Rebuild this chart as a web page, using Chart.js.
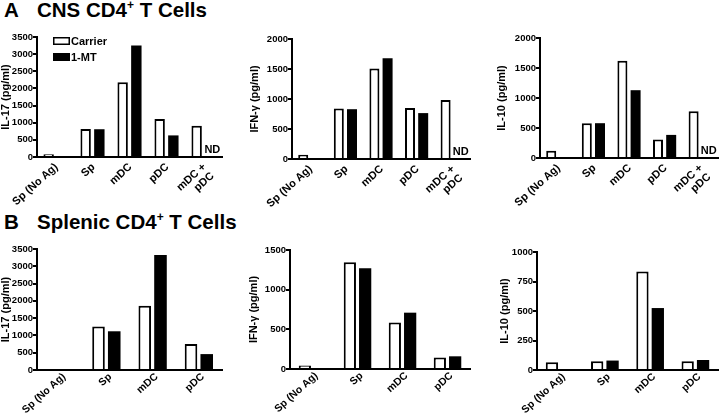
<!DOCTYPE html>
<html lang="en">
<head>
<meta charset="UTF-8" />
<title>CD4+ T cell cytokines</title>
<script src="https://cdn.jsdelivr.net/npm/chart.js"></script>
<style>
    body {
        margin: 0;
        background: #fff;
        width: 721px;
        height: 413px;
        position: relative;
        overflow: hidden;
        font-family: 'Liberation Sans', Arial, sans-serif;
    }

    .heading {
        position: absolute;
        font-weight: bold;
        font-size: 20.5px;
        color: #000;
        white-space: nowrap;
        line-height: 1;
    }

    .heading sup {
        font-size: 12px;
        vertical-align: 8px;
        line-height: 0;
    }

    canvas {
        position: absolute;
    }
</style>
</head>
<body>
<div class="heading" style="left:4px; top:0px;">A</div>
<div class="heading" style="left:37px; top:0px;">CNS CD4<sup>+</sup> T Cells</div>
<div class="heading" style="left:4px; top:212px;">B</div>
<div class="heading" style="left:37px; top:212px;">Splenic CD4<sup>+</sup> T Cells</div>

<canvas id="a1"></canvas>
<canvas id="a2"></canvas>
<canvas id="a3"></canvas>
<canvas id="b1"></canvas>
<canvas id="b2"></canvas>
<canvas id="b3"></canvas>

<script>
    // categories
    const catsA = ['Sp (No Ag)', 'Sp', 'mDC', 'pDC', ['mDC +', 'pDC']];
    const catsB = ['Sp (No Ag)', 'Sp', 'mDC', 'pDC'];
    const seriesNames = ['Carrier', '1-MT'];

    // CNS CD4+ T cells (null = ND)
    const cnsIL17Carrier = [80, 820, 2180, 1110, 910];
    const cnsIL17MT = [0, 810, 3250, 630, null];
    const cnsIFNgCarrier = [70, 840, 1510, 850, 985];
    const cnsIFNgMT = [0, 830, 1680, 765, null];
    const cnsIL10Carrier = [120, 580, 1620, 310, 780];
    const cnsIL10MT = [0, 580, 1130, 385, null];

    // Splenic CD4+ T cells
    const splIL17Carrier = [0, 1260, 1860, 750];
    const splIL17MT = [0, 1120, 3330, 460];
    const splIFNgCarrier = [45, 1345, 585, 145];
    const splIFNgMT = [0, 1270, 710, 160];
    const splIL10Carrier = [65, 75, 835, 75];
    const splIL10MT = [0, 80, 525, 85];

    // y axis ticks
    const ticksIL17 = [0, 500, 1000, 1500, 2000, 2500, 3000, 3500];
    const ticks2000 = [0, 500, 1000, 1500, 2000];
    const ticks1500 = [0, 500, 1000, 1500];
    const ticks1000 = [0, 250, 500, 750, 1000];

    const FONT = "'Liberation Sans', Arial, sans-serif";

    // writes "ND" where a 1-MT value was not determined
    const ndPlugin = {
        id: 'nd',
        afterDatasetsDraw(chart) {
            const ds = chart.data.datasets[1];
            const meta = chart.getDatasetMeta(1);
            const ctx = chart.ctx;
            const xScale = chart.scales.x;
            ds.data.forEach((v, i) => {
                if (v !== null) return;
                let x = meta.data[i] && meta.data[i].x;
                if (!isFinite(x)) x = xScale.getPixelForValue(i) + 7;
                ctx.save();
                ctx.font = 'bold 11px ' + FONT;
                ctx.fillStyle = '#000';
                ctx.textAlign = 'center';
                ctx.textBaseline = 'bottom';
                ctx.fillText('ND', x + 2, chart.chartArea.bottom - 2);
                ctx.restore();
            });
        }
    };

    // small legend in the top-left corner of the plot area
    const boxLegend = {
        id: 'boxLegend',
        afterDraw(chart, args, opts) {
            if (!opts.show) return;
            const ctx = chart.ctx;
            const left = chart.chartArea.left + 16;
            let top = chart.chartArea.top;
            ctx.save();
            ctx.font = 'bold 11px ' + FONT;
            ctx.textBaseline = 'middle';
            chart.data.datasets.forEach(ds => {
                ctx.fillStyle = ds.backgroundColor;
                ctx.fillRect(left, top, 17, 8);
                ctx.lineWidth = 1.5;
                ctx.strokeStyle = '#000';
                ctx.strokeRect(left + 0.75, top + 0.75, 15.5, 6.5);
                ctx.fillStyle = '#000';
                ctx.fillText(ds.label, left + 18, top + 4.5);
                top += 16;
            });
            ctx.restore();
        }
    };

    function makeChart(id, cats, carrier, mt, yTicks, yTitle, box, legend) {
        // box: canvas rect + plot area, page coordinates
        const cv = document.getElementById(id);
        cv.style.left = box.cx + 'px';
        cv.style.top = box.cy + 'px';
        cv.width = box.cw;
        cv.height = box.ch;
        const yWidth = box.l - box.cx;
        const xHeight = box.cy + box.ch - box.b;

        return new Chart(cv, {
            type: 'bar',
            data: {
                labels: cats,
                datasets: [{
                    label: seriesNames[0],
                    data: carrier,
                    backgroundColor: '#ffffff',
                    borderColor: '#000000',
                    borderWidth: 2,
                    categoryPercentage: box.cat,
                    barPercentage: box.bar
                }, {
                    label: seriesNames[1],
                    data: mt,
                    backgroundColor: '#000000',
                    borderColor: '#000000',
                    borderWidth: 0,
                    categoryPercentage: box.cat,
                    barPercentage: box.bar
                }]
            },
            options: {
                responsive: false,
                animation: false,
                events: [],
                layout: {
                    padding: { left: 0, top: box.t - box.cy, right: box.cx + box.cw - box.r, bottom: 0 }
                },
                plugins: {
                    legend: { display: false },
                    tooltip: { enabled: false },
                    boxLegend: { show: legend }
                },
                scales: {
                    x: {
                        grid: { display: false, drawTicks: false },
                        border: { color: '#000', width: 2 },
                        ticks: {
                            color: '#000',
                            font: { family: FONT, size: box.fs, weight: 'bold', lineHeight: 1.1 },
                            autoSkip: false,
                            minRotation: 42,
                            maxRotation: 42,
                            labelOffset: box.lo,
                            padding: box.pad
                        },
                        afterFit(scale) { scale.height = xHeight; }
                    },
                    y: {
                        min: yTicks[0],
                        max: yTicks[yTicks.length - 1],
                        afterBuildTicks(scale) { scale.ticks = yTicks.map(v => ({ value: v })); },
                        grid: {
                            drawOnChartArea: false,
                            drawTicks: true,
                            tickLength: 4,
                            color: '#000',
                            lineWidth: 2
                        },
                        border: { color: '#000', width: 2 },
                        ticks: {
                            color: '#000',
                            font: { family: FONT, size: 9.5, weight: 'bold' },
                            padding: 0,
                            callback: v => String(v)
                        },
                        title: {
                            display: true,
                            text: yTitle,
                            color: '#000',
                            font: { family: FONT, size: 11, weight: 'bold' },
                            padding: { top: 0, bottom: 0 }
                        },
                        afterFit(scale) { scale.width = yWidth; }
                    }
                }
            },
            plugins: [ndPlugin, boxLegend]
        });
    }

    const pA = { cat: 0.74, bar: 0.76, lo: 1, pad: 4, fs: 11 };
    const pB = { cat: 0.68, bar: 0.8, lo: 4, pad: 1, fs: 10.5 };

    makeChart('a1', catsA, cnsIL17Carrier, cnsIL17MT, ticksIL17, 'IL-17 (pg/ml)',
        { cx: -1, cy: 26, cw: 233, ch: 190, l: 37, t: 37, r: 222, b: 157, ...pA }, true);
    makeChart('a2', catsA, cnsIFNgCarrier, cnsIFNgMT, ticks2000, 'IFN-\u03b3 (pg/ml)',
        { cx: 248, cy: 26, cw: 232, ch: 190, l: 292, t: 39, r: 470, b: 159, ...pA }, false);
    makeChart('a3', catsA, cnsIL10Carrier, cnsIL10MT, ticks2000, 'IL-10 (pg/ml)',
        { cx: 495, cy: 26, cw: 226, ch: 190, l: 540, t: 38, r: 718, b: 158, ...pA }, false);

    makeChart('b1', catsB, splIL17Carrier, splIL17MT, ticksIL17, 'IL-17 (pg/ml)',
        { cx: -1, cy: 240, cw: 233, ch: 173, l: 37, t: 249, r: 222, b: 370, ...pB }, false);
    makeChart('b2', catsB, splIFNgCarrier, splIFNgMT, ticks1500, 'IFN-\u03b3 (pg/ml)',
        { cx: 247, cy: 240, cw: 233, ch: 173, l: 290, t: 250, r: 470, b: 369, ...pB }, false);
    makeChart('b3', catsB, splIL10Carrier, splIL10MT, ticks1000, 'IL-10 (pg/ml)',
        { cx: 498, cy: 240, cw: 223, ch: 173, l: 537, t: 252, r: 718, b: 370, ...pB }, false);
</script>
</body>
</html>
